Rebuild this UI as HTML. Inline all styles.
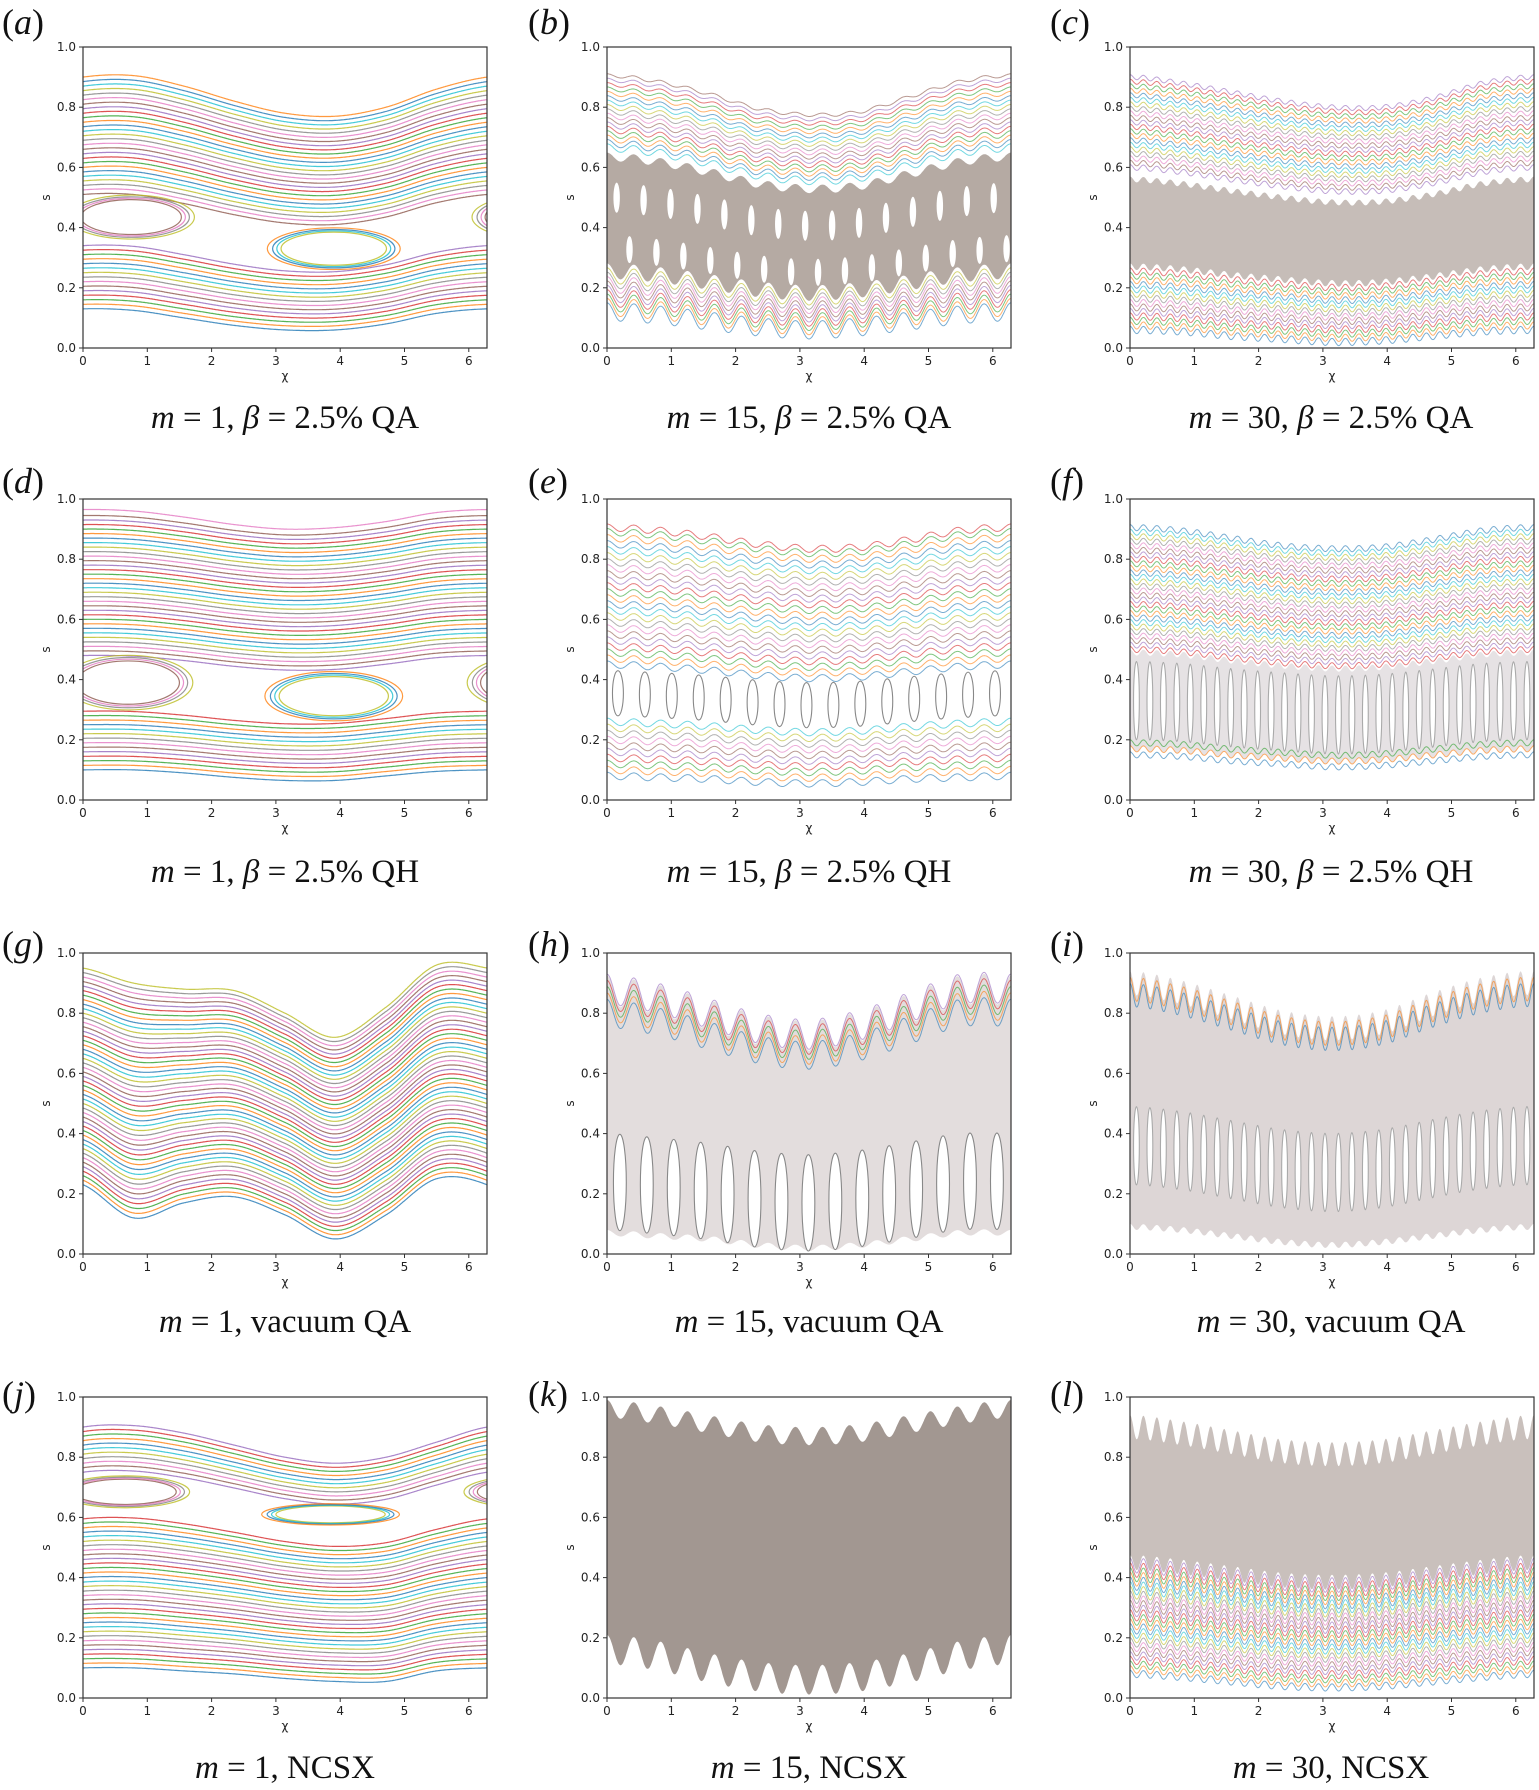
<!DOCTYPE html>
<html><head><meta charset="utf-8"><title>Poincare plots</title>
<style>
html,body{margin:0;padding:0;background:#fff;}
svg{display:block;}
.cap{font-family:"Liberation Serif",serif;font-size:33px;fill:#111;}
.lab{font-family:"Liberation Serif",serif;font-size:36px;fill:#111;}
.tick{font-family:"DejaVu Sans","Liberation Sans",sans-serif;font-size:12px;fill:#222;}
</style></head>
<body>
<svg id="fig" width="1539" height="1790" viewBox="0 0 1539 1790" xmlns="http://www.w3.org/2000/svg">
<g>
<text class="lab" x="2" y="34">(<tspan font-style="italic">a</tspan>)</text>
<text class="lab" x="528" y="34">(<tspan font-style="italic">b</tspan>)</text>
<text class="lab" x="1050" y="34">(<tspan font-style="italic">c</tspan>)</text>
<text class="lab" x="2" y="493">(<tspan font-style="italic">d</tspan>)</text>
<text class="lab" x="528" y="493">(<tspan font-style="italic">e</tspan>)</text>
<text class="lab" x="1050" y="493">(<tspan font-style="italic">f</tspan>)</text>
<text class="lab" x="2" y="956">(<tspan font-style="italic">g</tspan>)</text>
<text class="lab" x="528" y="956">(<tspan font-style="italic">h</tspan>)</text>
<text class="lab" x="1050" y="956">(<tspan font-style="italic">i</tspan>)</text>
<text class="lab" x="2" y="1406">(<tspan font-style="italic">j</tspan>)</text>
<text class="lab" x="528" y="1406">(<tspan font-style="italic">k</tspan>)</text>
<text class="lab" x="1050" y="1406">(<tspan font-style="italic">l</tspan>)</text>
</g>
<g text-anchor="middle">
<text class="cap" x="285" y="428"><tspan font-style="italic">m</tspan> = 1, <tspan font-style="italic">β</tspan> = 2.5% QA</text>
<text class="cap" x="809" y="428"><tspan font-style="italic">m</tspan> = 15, <tspan font-style="italic">β</tspan> = 2.5% QA</text>
<text class="cap" x="1331" y="428"><tspan font-style="italic">m</tspan> = 30, <tspan font-style="italic">β</tspan> = 2.5% QA</text>
<text class="cap" x="285" y="882"><tspan font-style="italic">m</tspan> = 1, <tspan font-style="italic">β</tspan> = 2.5% QH</text>
<text class="cap" x="809" y="882"><tspan font-style="italic">m</tspan> = 15, <tspan font-style="italic">β</tspan> = 2.5% QH</text>
<text class="cap" x="1331" y="882"><tspan font-style="italic">m</tspan> = 30, <tspan font-style="italic">β</tspan> = 2.5% QH</text>
<text class="cap" x="285" y="1332"><tspan font-style="italic">m</tspan> = 1, vacuum QA</text>
<text class="cap" x="809" y="1332"><tspan font-style="italic">m</tspan> = 15, vacuum QA</text>
<text class="cap" x="1331" y="1332"><tspan font-style="italic">m</tspan> = 30, vacuum QA</text>
<text class="cap" x="285" y="1778"><tspan font-style="italic">m</tspan> = 1, NCSX</text>
<text class="cap" x="809" y="1778"><tspan font-style="italic">m</tspan> = 15, NCSX</text>
<text class="cap" x="1331" y="1778"><tspan font-style="italic">m</tspan> = 30, NCSX</text>
</g>
</svg>
<script>
// ---------- data ----------
const panelNames = ['a','b','c','d','e','f','g','h','i','j','k','l'];
const panelM = [1,15,30,1,15,30,1,15,30,1,15,30];
const yTicks = [0,0.2,0.4,0.6,0.8,1.0];
const yTickLabels = ['0.0','0.2','0.4','0.6','0.8','1.0'];
const xTicks = [0,1,2,3,4,5,6];
const xTickLabels = ['0','1','2','3','4','5','6'];

const levels = [
 [0.13,0.145,0.16,0.175,0.19,0.205,0.22,0.235,0.25,0.265,0.28,0.295,0.31,0.325,0.34,0.51,0.525,0.54,0.555,0.57,0.585,0.60,0.615,0.63,0.645,0.66,0.675,0.69,0.705,0.72,0.735,0.75,0.765,0.78,0.795,0.81,0.825,0.84,0.855,0.87,0.885,0.90],
 [0.12,0.135,0.15,0.165,0.18,0.195,0.21,0.225,0.24,0.665,0.68,0.695,0.71,0.725,0.74,0.755,0.77,0.785,0.80,0.815,0.83,0.845,0.86,0.875,0.89,0.905],
 [0.06,0.075,0.09,0.105,0.12,0.135,0.15,0.165,0.18,0.195,0.21,0.225,0.24,0.255,0.6,0.615,0.63,0.645,0.66,0.675,0.69,0.705,0.72,0.735,0.75,0.765,0.78,0.795,0.81,0.825,0.84,0.855,0.87,0.885,0.90],
 [0.1,0.115,0.13,0.145,0.16,0.175,0.19,0.205,0.22,0.235,0.25,0.265,0.28,0.295,0.48,0.495,0.51,0.525,0.54,0.555,0.57,0.585,0.60,0.615,0.63,0.645,0.66,0.675,0.69,0.705,0.72,0.735,0.75,0.765,0.78,0.795,0.81,0.825,0.84,0.855,0.87,0.885,0.90,0.915,0.93,0.945,0.965],
 [0.08,0.1,0.12,0.14,0.16,0.18,0.2,0.22,0.24,0.26,0.45,0.47,0.49,0.51,0.53,0.55,0.57,0.59,0.61,0.63,0.65,0.67,0.69,0.71,0.73,0.75,0.77,0.79,0.81,0.83,0.85,0.87,0.89,0.905],
 [0.15,0.17,0.19,0.5,0.515,0.53,0.545,0.56,0.575,0.59,0.605,0.62,0.635,0.65,0.665,0.68,0.695,0.71,0.725,0.74,0.755,0.77,0.785,0.80,0.815,0.83,0.845,0.86,0.875,0.89,0.905],
 [0.23,0.245,0.26,0.275,0.29,0.305,0.32,0.335,0.35,0.365,0.38,0.395,0.41,0.425,0.44,0.455,0.47,0.485,0.50,0.515,0.53,0.545,0.56,0.575,0.59,0.605,0.62,0.635,0.65,0.665,0.68,0.695,0.71,0.725,0.74,0.755,0.77,0.785,0.80,0.815,0.83,0.845,0.86,0.875,0.89,0.905,0.92,0.935,0.95],
 [0.8,0.82,0.84,0.86,0.88],
 [0.86,0.88],
 [0.1,0.115,0.13,0.145,0.16,0.175,0.19,0.205,0.22,0.235,0.25,0.265,0.28,0.295,0.31,0.325,0.34,0.355,0.37,0.385,0.40,0.415,0.43,0.445,0.46,0.475,0.49,0.505,0.52,0.535,0.55,0.565,0.58,0.595,0.75,0.765,0.78,0.795,0.81,0.825,0.84,0.855,0.87,0.885,0.90],
 [],
 [0.08,0.095,0.11,0.125,0.14,0.155,0.17,0.185,0.2,0.215,0.23,0.245,0.26,0.275,0.29,0.305,0.32,0.335,0.35,0.365,0.38,0.395,0.41,0.425,0.44]
];
const refBot = [0.13,0.12,0.06,0.1,0.08,0.15,0.23,0.08,0.1,0.1,0.12,0.08];
const refTop = [0.9,0.9,0.9,0.965,0.9,0.905,0.95,0.88,0.9,0.9,0.95,0.9];
const shapeBot = [
 [0,-.005,-.03,-.055,-.07,-.07,-.05,-.015,0],
 [0,-.01,-.03,-.05,-.06,-.05,-.03,-.01,0],
 [0,-.005,-.02,-.03,-.04,-.035,-.02,-.005,0],
 [0,0,-.01,-.025,-.035,-.035,-.02,-.005,0],
 [0,-.005,-.01,-.02,-.025,-.02,-.01,-.005,0],
 [0,-.005,-.02,-.03,-.04,-.035,-.02,-.005,0],
 [0,-.11,-.06,-.04,-.10,-.18,-.10,.02,0],
 [0,-.01,-.02,-.04,-.05,-.04,-.02,0,0],
 [0,-.01,-.03,-.05,-.06,-.05,-.03,-.01,0],
 [0,0,-.01,-.02,-.035,-.045,-.045,-.01,0],
 [0,-.02,-.06,-.09,-.10,-.09,-.06,-.02,0],
 [0,-.01,-.025,-.04,-.045,-.04,-.025,-.01,0]
];
const shapeTop = [
 [0,.005,-.03,-.08,-.12,-.13,-.10,-.04,0],
 [0,-.02,-.06,-.11,-.13,-.12,-.07,-.02,0],
 [0,-.02,-.05,-.08,-.10,-.10,-.07,-.02,0],
 [0,-.005,-.025,-.05,-.065,-.06,-.04,-.01,0],
 [0,-.01,-.03,-.055,-.07,-.065,-.04,-.01,0],
 [0,-.01,-.035,-.06,-.07,-.065,-.04,-.01,0],
 [0,-.05,-.07,-.075,-.15,-.23,-.13,.01,0],
 [0,-.03,-.08,-.13,-.15,-.12,-.06,0,0],
 [0,-.03,-.08,-.13,-.15,-.13,-.07,-.02,0],
 [0,.005,-.02,-.06,-.10,-.12,-.10,-.05,0],
 [0,-.02,-.05,-.08,-.09,-.08,-.05,-.02,0],
 [0,-.02,-.05,-.08,-.09,-.08,-.05,-.02,0]
];
const ripBot = [0,0.03,0.012,0,0.012,0.01,0,0.01,0.01,0,0.05,0.012];
const ripTop = [0,0.006,0.008,0,0.012,0.01,0,0.05,0.04,0,0.03,0.04];
const bandLo = [null,0.255,0.27,null,null,0.17,null,0.07,0.09,null,0.16,0.45];
const bandHi = [null,0.635,0.56,null,null,0.49,null,0.875,0.9,null,0.96,0.9];
const bandColor = [null,'#b5aaa3','#c6bdb8',null,null,'#e6e2e4',null,'#e3dddd','#ddd6d6',null,'#a29791','#c9c0bc'];

const islandX = [[0.75,3.9],[],[],[0.7,3.9],[],[],[],[],[],[0.65,3.85],[],[]];
const islandS = [[0.435,0.33],[],[],[0.39,0.345],[],[],[],[],[],[0.685,0.61],[],[]];
const islandRx = [[0.78,0.82],[],[],[0.8,0.85],[],[],[],[],[],[0.8,0.85],[],[]];
const islandRy = [[0.058,0.055],[],[],[0.072,0.065],[],[],[],[],[],[0.042,0.028],[],[]];

const chainS = [[],[0.5,0.33],[],[],[0.355],[0.33],[],[0.24],[0.36],[],[],[]];
const chainRx = [[],[0.05,0.05],[],[],[0.085],[0.045],[],[0.1],[0.045],[],[],[]];
const chainRy = [[],[0.05,0.045],[],[],[0.075],[0.13],[],[0.16],[0.13],[],[],[]];
const chainPhase = [[],[0.15,0.35],[],[],[0.17],[0.1],[],[0.2],[0.1],[],[],[]];
const chainStroke = [[],['none','none'],[],[],['#888'],['#aaa'],[],['#888'],['#aaa'],[],[],[]];

// ---------- layout ----------
const colX = [83,607,1130];
const rowY = [47,499,953,1397];
const PW = 404, PH = 301, TWO_PI = Math.PI*2;
const tab10 = ['#1f77b4','#ff7f0e','#2ca02c','#d62728','#9467bd','#8c564b','#e377c2','#7f7f7f','#bcbd22','#17becf'];
const NS = 'http://www.w3.org/2000/svg';
const svg = document.getElementById('fig');

function mk(tag, parent){ const e = document.createElementNS(NS, tag); parent.appendChild(e); return e; }

function knot(K, j){ if(j<0) return K[j+8]; if(j>8) return K[j-8]; return K[j]; }
function cr(K, chi){
  const h = TWO_PI/8; let u = chi/h; let i = Math.floor(u); if(i<0) i=0; if(i>7) i=7; const f = u-i;
  const p0=knot(K,i-1), p1=knot(K,i), p2=knot(K,i+1), p3=knot(K,i+2);
  return 0.5*((2*p1)+(-p0+p2)*f+(2*p0-5*p1+4*p2-p3)*f*f+(-p0+3*p1-3*p2+p3)*f*f*f);
}
function tOf(p, s0){ let t=(s0-refBot[p])/(refTop[p]-refBot[p]); return Math.max(0,Math.min(1,t)); }
function offset(p, s0, chi){ const t=tOf(p,s0); return (1-t)*cr(shapeBot[p],chi)+t*cr(shapeTop[p],chi); }
function sAt(p, s0, chi){
  const t=tOf(p,s0); const r=(1-t)*ripBot[p]+t*ripTop[p];
  return s0 + offset(p,s0,chi) + (panelM[p]>1 ? r*Math.cos(panelM[p]*chi) : 0);
}

panelNames.forEach((nm, p) => {
  const X0 = colX[p%3], Y0 = rowY[Math.floor(p/3)];
  const xs = c => X0 + c/TWO_PI*PW;
  const ys = s => Y0 + PH - s*PH;
  const g = mk('g', svg);
  
  
  const clip = mk('clipPath', g); clip.setAttribute('id','clip-'+nm);
  const cr_ = mk('rect', clip); cr_.setAttribute('x',X0); cr_.setAttribute('y',Y0); cr_.setAttribute('width',PW); cr_.setAttribute('height',PH);
  const plot = mk('g', g); plot.setAttribute('clip-path','url(#clip-'+nm+')');
  
  
  const N = 700;
  // chaos band
  if(bandLo[p] !== null){
    let d = '';
    for(let i=0;i<=N;i++){ const c=i/N*TWO_PI; d += (i?'L':'M')+xs(c).toFixed(1)+' '+ys(sAt(p,bandHi[p],c)).toFixed(1); }
    for(let i=N;i>=0;i--){ const c=i/N*TWO_PI; d += 'L'+xs(c).toFixed(1)+' '+ys(sAt(p,bandLo[p],c)).toFixed(1); }
    const band = mk('path', plot); band.setAttribute('d', d+'Z'); band.setAttribute('fill', bandColor[p]);
    
    
  }
  // flux surfaces
  levels[p].forEach((s0, k) => {
    let d = '';
    for(let i=0;i<=N;i++){ const c=i/N*TWO_PI; d += (i?'L':'M')+xs(c).toFixed(1)+' '+ys(sAt(p,s0,c)).toFixed(1); }
    const ln = mk('path', plot); ln.setAttribute('d', d); ln.setAttribute('fill','none');
    ln.setAttribute('stroke', tab10[k%10]); ln.setAttribute('stroke-width', panelM[p]>1?1:1.2);
    ln.setAttribute('stroke-opacity', panelM[p]>1?0.6:0.8);
    
    
  });
  // islands (m=1)
  islandX[p].forEach((cx, q) => {
    [-TWO_PI,0,TWO_PI].forEach(sh => {
      [1,1.08,1.16,1.26].forEach((f, r) => {
        const e = mk('ellipse', plot);
        e.setAttribute('cx', xs(cx+sh)); e.setAttribute('cy', ys(islandS[p][q]));
        e.setAttribute('rx', islandRx[p][q]*f/TWO_PI*PW); e.setAttribute('ry', islandRy[p][q]*f*PH);
        e.setAttribute('fill', r===0?'#fff':'none'); e.setAttribute('stroke', tab10[(q*3+r+5)%10]);
        e.setAttribute('stroke-width', 1.2); e.setAttribute('stroke-opacity', 0.8);
        
        
      });
    });
  });
  // island chains (m>1)
  chainS[p].forEach((s0, q) => {
    for(let k=0;k<=panelM[p];k++){
      const c = (TWO_PI*k)/panelM[p] + chainPhase[p][q];
      const e = mk('ellipse', plot);
      e.setAttribute('cx', xs(c)); e.setAttribute('cy', ys(s0 + offset(p,s0,c)));
      e.setAttribute('rx', chainRx[p][q]/TWO_PI*PW); e.setAttribute('ry', chainRy[p][q]*PH);
      e.setAttribute('fill', '#fff'); e.setAttribute('stroke', chainStroke[p][q]); e.setAttribute('stroke-width', 1.1);
      
      
    }
  });
  // frame
  const fr = mk('rect', g); fr.setAttribute('x',X0); fr.setAttribute('y',Y0); fr.setAttribute('width',PW); fr.setAttribute('height',PH);
  fr.setAttribute('fill','none'); fr.setAttribute('stroke','#333'); fr.setAttribute('stroke-width',1.2);
  
  
  // y ticks
  yTicks.forEach((v, k) => {
    const tl = mk('line', g); tl.setAttribute('x1',X0-4); tl.setAttribute('x2',X0); tl.setAttribute('y1',ys(v)); tl.setAttribute('y2',ys(v)); tl.setAttribute('stroke','#333');
    
    
    const tx = mk('text', g); tx.setAttribute('class','tick'); tx.setAttribute('x',X0-7); tx.setAttribute('y',ys(v)+4); tx.setAttribute('text-anchor','end'); tx.textContent = yTickLabels[k];
    
    
  });
  xTicks.forEach((v, k) => {
    const tl = mk('line', g); tl.setAttribute('x1',xs(v)); tl.setAttribute('x2',xs(v)); tl.setAttribute('y1',Y0+PH); tl.setAttribute('y2',Y0+PH+4); tl.setAttribute('stroke','#333');
    
    
    const tx = mk('text', g); tx.setAttribute('class','tick'); tx.setAttribute('x',xs(v)); tx.setAttribute('y',Y0+PH+17); tx.setAttribute('text-anchor','middle'); tx.textContent = xTickLabels[k];
    
    
  });
  const yl = mk('text', g); yl.setAttribute('class','tick'); yl.setAttribute('text-anchor','middle');
  yl.setAttribute('transform','translate('+(X0-33)+','+(Y0+PH/2)+') rotate(-90)'); yl.textContent = 's';
  
  
  const xl = mk('text', g); xl.setAttribute('class','tick'); xl.setAttribute('text-anchor','middle');
  xl.setAttribute('x', X0+PW/2); xl.setAttribute('y', Y0+PH+32); xl.textContent = 'χ';
  
  
});
</script>
</body></html>
